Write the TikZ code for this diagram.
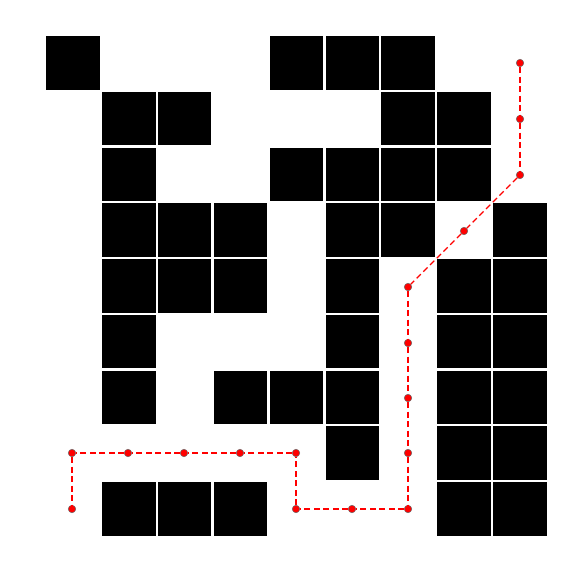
\documentclass[tikz,border=0pt]{standalone}
\begin{document}
\begin{tikzpicture}[x=1pt,y=-1pt,
  cell/.style={fill=black},
  dot/.style={circle,fill=red,draw=black!60,line width=0.5pt,inner sep=0pt,minimum size=7.5pt},
  route/.style={draw=red,line width=1.1pt,dash pattern=on 6pt off 3.5pt}]
\useasboundingbox (0,0) rectangle (581,586);
\fill[white] (0,0) rectangle (581,586);
\foreach \c/\r in {0/0,4/0,5/0,6/0,
  1/1,2/1,6/1,7/1,
  1/2,4/2,5/2,6/2,7/2,
  1/3,2/3,3/3,5/3,6/3,8/3,
  1/4,2/4,3/4,5/4,7/4,8/4,
  1/5,5/5,7/5,8/5,
  1/6,3/6,4/6,5/6,7/6,8/6,
  5/7,7/7,8/7,
  1/8,2/8,3/8,7/8,8/8}
  \fill[cell] ({46+55.9*\c},{36+55.75*\r}) rectangle ++(53.6,53.6);
\foreach \c/\r/\y [count=\i from 0] in {8/0/63,8/1/119,8/2/175,7/3/231,6/4/287,6/5/343,6/6/398,6/7/453,6/8/509,5/8/509,4/8/509,4/7/453,3/7/453,2/7/453,1/7/453,0/7/453,0/8/509}
  \node[dot] (p\i) at ({72+56*\c},\y) {};
\foreach \a [remember=\a as \b (initially 0)] in {1,...,16}
  \draw[route] (p\b) -- (p\a);
\end{tikzpicture}
\end{document}
